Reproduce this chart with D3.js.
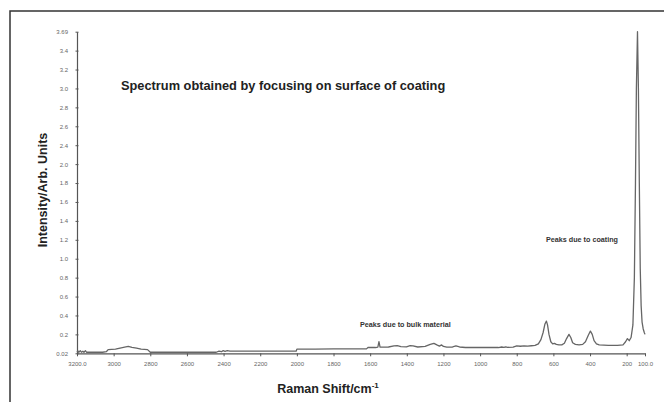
<!DOCTYPE html>
<html>
<head>
<meta charset="utf-8">
<script src="https://cdn.jsdelivr.net/npm/d3@7"></script>
<style>
  html, body { margin: 0; padding: 0; background: #fff; }
  svg { display: block; }
  text { font-family: "Liberation Sans", Arial, sans-serif; }
</style>
</head>
<body>
<svg id="chart" width="664" height="402"></svg>
<script>
// Raman spectrum: wavenumber (cm-1) and intensity (arb. units)
const wavenumbers = [
  3200, 3195, 3190, 3182, 3176, 3168, 3162, 3154, 3148, 3135, 3100, 3060, 3040, 3030,
  2990, 2965, 2940, 2920, 2900, 2875, 2850, 2815, 2800, 2700, 2600, 2440, 2425, 2412,
  2402, 2392, 2380, 2365, 2300, 2200, 2100, 2004, 2000, 1900, 1800, 1700, 1620, 1612,
  1570, 1558, 1552, 1546, 1500, 1470, 1452, 1432, 1402, 1382, 1366, 1340, 1300, 1272,
  1252, 1236, 1222, 1210, 1200, 1182, 1150, 1132, 1112, 1080, 1000, 900, 882, 870,
  860, 850, 820, 800, 780, 760, 740, 720, 700, 682, 668, 656, 646, 638, 632,
  624, 614, 604, 594, 584, 570, 554, 540, 528, 515, 505, 495, 480, 460, 440,
  425, 410, 398, 388, 378, 365, 350, 300, 250, 220, 206, 196, 186, 176, 166,
  158, 152, 147, 141, 136, 131, 126, 121, 116, 110, 104, 100
];
const intensities = [
  0.03, 0.042, 0.03, 0.045, 0.03, 0.04, 0.03, 0.045, 0.03, 0.03, 0.03, 0.03, 0.035, 0.055,
  0.06, 0.07, 0.078, 0.085, 0.076, 0.07, 0.06, 0.055, 0.03, 0.03, 0.03, 0.03, 0.04, 0.035,
  0.045, 0.038, 0.045, 0.04, 0.04, 0.04, 0.04, 0.04, 0.06, 0.06, 0.062, 0.062, 0.062, 0.075,
  0.075, 0.078, 0.13, 0.078, 0.08, 0.09, 0.092, 0.084, 0.082, 0.092, 0.09, 0.08, 0.085, 0.105,
  0.115, 0.1, 0.088, 0.1, 0.085, 0.078, 0.08, 0.09, 0.08, 0.075, 0.075, 0.075, 0.08, 0.076,
  0.082, 0.077, 0.078, 0.09, 0.087, 0.09, 0.088, 0.092, 0.095, 0.11, 0.15, 0.22, 0.31, 0.34, 0.3,
  0.2, 0.13, 0.11, 0.115, 0.105, 0.1, 0.1, 0.115, 0.16, 0.2, 0.17, 0.12, 0.105, 0.1, 0.105,
  0.13, 0.19, 0.235, 0.2, 0.14, 0.11, 0.1, 0.095, 0.095, 0.1, 0.13, 0.16, 0.14, 0.17, 0.3,
  0.8, 1.8, 3.0, 3.69, 3.0, 1.8, 0.9, 0.5, 0.33, 0.26, 0.22, 0.2
];

// Axis tick labels as printed on the figure
const yTickValues = [0.02, 0.2, 0.4, 0.6, 0.8, 1.0, 1.2, 1.4, 1.6, 1.8, 2.0, 2.4, 2.6, 2.8, 3.0, 3.2, 3.4, 3.69];
const yTickLabels = ["0.02", "0.2", "0.4", "0.6", "0.8", "1.0", "1.2", "1.4", "1.6", "1.8", "2.0", "2.4", "2.6", "2.8", "3.0", "3.2", "3.4", "3.69"];
const xTickValues = [3200, 3000, 2800, 2600, 2400, 2200, 2000, 1800, 1600, 1400, 1200, 1000, 800, 600, 400, 200, 100];
const xTickLabels = ["3200.0", "3000", "2800", "2600", "2400", "2200", "2000", "1800", "1600", "1400", "1200", "1000", "800", "600", "400", "200", "100.0"];

const titleText = "Spectrum obtained by focusing on surface of coating";
const notes = [
  { text: "Peaks due to coating", wn: 640, value: 1.18 },
  { text: "Peaks due to bulk material", wn: 1655, value: 0.28 }
];

const svg = d3.select("#chart");
const W = 664, H = 402;

const plot = { left: 77, right: 645, top: 31.7, bottom: 353.3 };

const x = d3.scaleLinear().domain([3200, 100]).range([plot.left, plot.right]);

// The printed y ticks are evenly spaced, so the scale is piecewise linear through them
const step = (plot.bottom - plot.top) / (yTickValues.length - 1);
const y = d3.scaleLinear()
  .domain(yTickValues)
  .range(yTickValues.map((d, i) => plot.bottom - i * step));

// outer frame
svg.append("rect")
  .attr("x", 10).attr("y", 11)
  .attr("width", W + 20).attr("height", H + 20)
  .attr("fill", "none").attr("stroke", "#333").attr("stroke-width", 1.5);

// x axis
const xAxis = d3.axisBottom(x)
  .tickValues(xTickValues)
  .tickFormat((d, i) => xTickLabels[i])
  .tickSizeInner(3).tickSizeOuter(0).tickPadding(5);
const gx = svg.append("g").attr("transform", `translate(0,${plot.bottom})`).call(xAxis);
gx.select(".domain").attr("stroke", "#555").attr("stroke-width", 1.2);
gx.selectAll(".tick line").attr("stroke", "#555");
gx.selectAll(".tick text").attr("fill", "#666").attr("font-size", 6)
  .attr("font-family", "'Liberation Sans Narrow', 'Liberation Sans', Arial, sans-serif");

// y axis
const yAxis = d3.axisLeft(y)
  .tickValues(yTickValues)
  .tickFormat((d, i) => yTickLabels[i])
  .tickSizeInner(2).tickSizeOuter(0).tickPadding(7);
const gy = svg.append("g").attr("transform", `translate(${plot.left},0)`).call(yAxis);
gy.select(".domain").attr("stroke", "#555").attr("stroke-width", 1.2);
gy.selectAll(".tick line").attr("stroke", "#555").attr("x2", 1.5).attr("x1", -1.5);
gy.selectAll(".tick text").attr("fill", "#666").attr("font-size", 6)
  .attr("font-family", "'Liberation Sans Narrow', 'Liberation Sans', Arial, sans-serif");

// spectrum
const points = wavenumbers.map((w, i) => [w, intensities[i]]);
const line = d3.line().x(d => x(d[0])).y(d => y(d[1]));
svg.append("path")
  .datum(points)
  .attr("d", line)
  .attr("fill", "none")
  .attr("stroke", "#666")
  .attr("stroke-width", 1.3)
  .attr("stroke-linejoin", "round");

// title
svg.append("text")
  .attr("x", 121).attr("y", 90)
  .attr("font-size", 12.8).attr("font-weight", "bold").attr("fill", "#222")
  .text(titleText);

// annotations
svg.selectAll("text.note")
  .data(notes)
  .join("text")
  .attr("class", "note")
  .attr("x", d => x(d.wn))
  .attr("y", d => y(d.value))
  .attr("font-size", 7.2).attr("font-weight", "bold").attr("fill", "#333")
  .text(d => d.text);

// axis titles
const xt = svg.append("text")
  .attr("x", 328).attr("y", 393)
  .attr("text-anchor", "middle")
  .attr("font-size", 12.5).attr("font-weight", "bold").attr("fill", "#222");
xt.append("tspan").text("Raman Shift/cm");
xt.append("tspan").attr("dy", -5).attr("font-size", 8).text("-1");

svg.append("text")
  .attr("transform", "translate(47,190) rotate(-90)")
  .attr("text-anchor", "middle")
  .attr("font-size", 12.5).attr("font-weight", "bold").attr("fill", "#222")
  .text("Intensity/Arb. Units");
</script>
</body>
</html>
